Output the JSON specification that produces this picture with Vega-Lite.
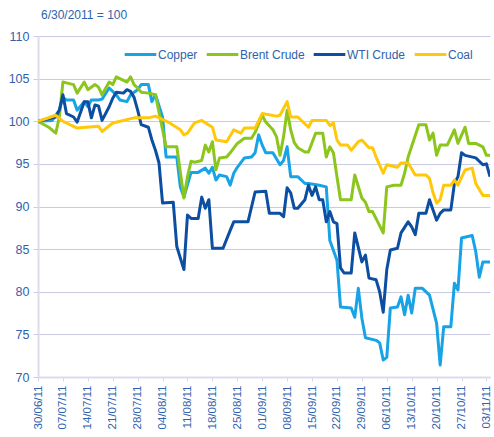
{
 "$schema": "https://vega.github.io/schema/vega-lite/v6.json",
 "width": 452,
 "height": 341,
 "autosize": {"type": "none"},
 "padding": {"left": 38, "top": 36, "right": 4, "bottom": 60},
 "background": "white",
 "title": {"text": "6/30/2011 = 100", "anchor": "start", "frame": "group", "offset": 8, "fontSize": 12, "font": "Liberation Sans", "fontWeight": "normal", "color": "#2F62AE", "dx": 3},
 "data": {"values": [
  {"series":"Copper","date":"2011-06-30","value":100},
  {"series":"Copper","date":"2011-07-04","value":100.1},
  {"series":"Copper","date":"2011-07-06","value":101.3},
  {"series":"Copper","date":"2011-07-07","value":102.8},
  {"series":"Copper","date":"2011-07-08","value":102.5},
  {"series":"Copper","date":"2011-07-10","value":102.5},
  {"series":"Copper","date":"2011-07-11","value":101.3},
  {"series":"Copper","date":"2011-07-13","value":102.3},
  {"series":"Copper","date":"2011-07-14","value":101.7},
  {"series":"Copper","date":"2011-07-15","value":102.5},
  {"series":"Copper","date":"2011-07-17","value":102.5},
  {"series":"Copper","date":"2011-07-18","value":102.6},
  {"series":"Copper","date":"2011-07-20","value":103.9},
  {"series":"Copper","date":"2011-07-22","value":103.1},
  {"series":"Copper","date":"2011-07-23","value":102.5},
  {"series":"Copper","date":"2011-07-25","value":102.3},
  {"series":"Copper","date":"2011-07-26","value":103.1},
  {"series":"Copper","date":"2011-07-28","value":103.7},
  {"series":"Copper","date":"2011-07-29","value":104.3},
  {"series":"Copper","date":"2011-07-31","value":104.3},
  {"series":"Copper","date":"2011-08-01","value":102.3},
  {"series":"Copper","date":"2011-08-02","value":103.1},
  {"series":"Copper","date":"2011-08-04","value":100.5},
  {"series":"Copper","date":"2011-08-05","value":95.8},
  {"series":"Copper","date":"2011-08-08","value":95.8},
  {"series":"Copper","date":"2011-08-09","value":92.3},
  {"series":"Copper","date":"2011-08-10","value":91.1},
  {"series":"Copper","date":"2011-08-12","value":94.0},
  {"series":"Copper","date":"2011-08-14","value":94.0},
  {"series":"Copper","date":"2011-08-16","value":94.5},
  {"series":"Copper","date":"2011-08-17","value":93.9},
  {"series":"Copper","date":"2011-08-18","value":94.6},
  {"series":"Copper","date":"2011-08-19","value":93.1},
  {"series":"Copper","date":"2011-08-20","value":93.7},
  {"series":"Copper","date":"2011-08-22","value":93.5},
  {"series":"Copper","date":"2011-08-23","value":92.5},
  {"series":"Copper","date":"2011-08-24","value":93.9},
  {"series":"Copper","date":"2011-08-25","value":94.6},
  {"series":"Copper","date":"2011-08-27","value":95.7},
  {"series":"Copper","date":"2011-08-29","value":95.8},
  {"series":"Copper","date":"2011-08-30","value":96.3},
  {"series":"Copper","date":"2011-08-31","value":98.4},
  {"series":"Copper","date":"2011-09-01","value":97.2},
  {"series":"Copper","date":"2011-09-02","value":96.3},
  {"series":"Copper","date":"2011-09-04","value":96.3},
  {"series":"Copper","date":"2011-09-06","value":94.9},
  {"series":"Copper","date":"2011-09-07","value":95.4},
  {"series":"Copper","date":"2011-09-08","value":97.0},
  {"series":"Copper","date":"2011-09-09","value":93.5},
  {"series":"Copper","date":"2011-09-11","value":93.5},
  {"series":"Copper","date":"2011-09-13","value":92.7},
  {"series":"Copper","date":"2011-09-14","value":92.7},
  {"series":"Copper","date":"2011-09-17","value":92.5},
  {"series":"Copper","date":"2011-09-19","value":92.3},
  {"series":"Copper","date":"2011-09-20","value":86.0},
  {"series":"Copper","date":"2011-09-22","value":83.7},
  {"series":"Copper","date":"2011-09-23","value":78.2},
  {"series":"Copper","date":"2011-09-26","value":78.1},
  {"series":"Copper","date":"2011-09-27","value":77.0},
  {"series":"Copper","date":"2011-09-28","value":80.4},
  {"series":"Copper","date":"2011-09-29","value":76.9},
  {"series":"Copper","date":"2011-09-30","value":74.6},
  {"series":"Copper","date":"2011-10-03","value":74.3},
  {"series":"Copper","date":"2011-10-04","value":74.0},
  {"series":"Copper","date":"2011-10-05","value":72.0},
  {"series":"Copper","date":"2011-10-06","value":72.3},
  {"series":"Copper","date":"2011-10-07","value":78.1},
  {"series":"Copper","date":"2011-10-09","value":78.2},
  {"series":"Copper","date":"2011-10-10","value":79.4},
  {"series":"Copper","date":"2011-10-11","value":77.3},
  {"series":"Copper","date":"2011-10-12","value":79.6},
  {"series":"Copper","date":"2011-10-13","value":77.5},
  {"series":"Copper","date":"2011-10-14","value":80.4},
  {"series":"Copper","date":"2011-10-16","value":80.4},
  {"series":"Copper","date":"2011-10-18","value":79.6},
  {"series":"Copper","date":"2011-10-20","value":76.3},
  {"series":"Copper","date":"2011-10-21","value":71.4},
  {"series":"Copper","date":"2011-10-22","value":75.9},
  {"series":"Copper","date":"2011-10-24","value":75.9},
  {"series":"Copper","date":"2011-10-25","value":81.0},
  {"series":"Copper","date":"2011-10-26","value":80.2},
  {"series":"Copper","date":"2011-10-27","value":86.3},
  {"series":"Copper","date":"2011-10-30","value":86.6},
  {"series":"Copper","date":"2011-10-31","value":84.7},
  {"series":"Copper","date":"2011-11-01","value":81.7},
  {"series":"Copper","date":"2011-11-02","value":83.5},
  {"series":"Copper","date":"2011-11-04","value":83.5},

  {"series":"Brent Crude","date":"2011-06-30","value":100},
  {"series":"Brent Crude","date":"2011-07-03","value":99.3},
  {"series":"Brent Crude","date":"2011-07-05","value":98.6},
  {"series":"Brent Crude","date":"2011-07-06","value":100.5},
  {"series":"Brent Crude","date":"2011-07-07","value":104.6},
  {"series":"Brent Crude","date":"2011-07-08","value":104.5},
  {"series":"Brent Crude","date":"2011-07-10","value":104.3},
  {"series":"Brent Crude","date":"2011-07-11","value":103.3},
  {"series":"Brent Crude","date":"2011-07-13","value":104.6},
  {"series":"Brent Crude","date":"2011-07-14","value":103.7},
  {"series":"Brent Crude","date":"2011-07-16","value":104.3},
  {"series":"Brent Crude","date":"2011-07-17","value":104.0},
  {"series":"Brent Crude","date":"2011-07-18","value":103.1},
  {"series":"Brent Crude","date":"2011-07-20","value":104.6},
  {"series":"Brent Crude","date":"2011-07-21","value":104.3},
  {"series":"Brent Crude","date":"2011-07-22","value":105.2},
  {"series":"Brent Crude","date":"2011-07-23","value":105.0},
  {"series":"Brent Crude","date":"2011-07-25","value":104.6},
  {"series":"Brent Crude","date":"2011-07-26","value":105.2},
  {"series":"Brent Crude","date":"2011-07-27","value":104.3},
  {"series":"Brent Crude","date":"2011-07-28","value":103.9},
  {"series":"Brent Crude","date":"2011-07-29","value":103.4},
  {"series":"Brent Crude","date":"2011-07-31","value":103.3},
  {"series":"Brent Crude","date":"2011-08-02","value":103.1},
  {"series":"Brent Crude","date":"2011-08-04","value":99.0},
  {"series":"Brent Crude","date":"2011-08-05","value":97.0},
  {"series":"Brent Crude","date":"2011-08-08","value":97.0},
  {"series":"Brent Crude","date":"2011-08-10","value":91.0},
  {"series":"Brent Crude","date":"2011-08-11","value":93.5},
  {"series":"Brent Crude","date":"2011-08-12","value":95.3},
  {"series":"Brent Crude","date":"2011-08-13","value":95.2},
  {"series":"Brent Crude","date":"2011-08-15","value":95.4},
  {"series":"Brent Crude","date":"2011-08-16","value":97.2},
  {"series":"Brent Crude","date":"2011-08-17","value":96.4},
  {"series":"Brent Crude","date":"2011-08-18","value":97.6},
  {"series":"Brent Crude","date":"2011-08-19","value":94.3},
  {"series":"Brent Crude","date":"2011-08-20","value":95.7},
  {"series":"Brent Crude","date":"2011-08-22","value":95.8},
  {"series":"Brent Crude","date":"2011-08-23","value":96.3},
  {"series":"Brent Crude","date":"2011-08-25","value":97.4},
  {"series":"Brent Crude","date":"2011-08-27","value":98.0},
  {"series":"Brent Crude","date":"2011-08-29","value":98.0},
  {"series":"Brent Crude","date":"2011-08-30","value":98.7},
  {"series":"Brent Crude","date":"2011-09-01","value":100.7},
  {"series":"Brent Crude","date":"2011-09-02","value":99.9},
  {"series":"Brent Crude","date":"2011-09-04","value":99.0},
  {"series":"Brent Crude","date":"2011-09-05","value":98.2},
  {"series":"Brent Crude","date":"2011-09-06","value":96.0},
  {"series":"Brent Crude","date":"2011-09-07","value":98.2},
  {"series":"Brent Crude","date":"2011-09-08","value":101.3},
  {"series":"Brent Crude","date":"2011-09-09","value":99.0},
  {"series":"Brent Crude","date":"2011-09-10","value":97.5},
  {"series":"Brent Crude","date":"2011-09-11","value":96.9},
  {"series":"Brent Crude","date":"2011-09-13","value":96.4},
  {"series":"Brent Crude","date":"2011-09-14","value":96.4},
  {"series":"Brent Crude","date":"2011-09-16","value":98.6},
  {"series":"Brent Crude","date":"2011-09-18","value":98.6},
  {"series":"Brent Crude","date":"2011-09-19","value":95.8},
  {"series":"Brent Crude","date":"2011-09-20","value":97.0},
  {"series":"Brent Crude","date":"2011-09-21","value":96.3},
  {"series":"Brent Crude","date":"2011-09-22","value":93.5},
  {"series":"Brent Crude","date":"2011-09-23","value":90.8},
  {"series":"Brent Crude","date":"2011-09-26","value":90.8},
  {"series":"Brent Crude","date":"2011-09-27","value":93.7},
  {"series":"Brent Crude","date":"2011-09-29","value":91.0},
  {"series":"Brent Crude","date":"2011-09-30","value":90.5},
  {"series":"Brent Crude","date":"2011-10-01","value":89.4},
  {"series":"Brent Crude","date":"2011-10-02","value":89.4},
  {"series":"Brent Crude","date":"2011-10-05","value":86.9},
  {"series":"Brent Crude","date":"2011-10-06","value":92.3},
  {"series":"Brent Crude","date":"2011-10-08","value":92.5},
  {"series":"Brent Crude","date":"2011-10-10","value":92.5},
  {"series":"Brent Crude","date":"2011-10-11","value":93.9},
  {"series":"Brent Crude","date":"2011-10-12","value":95.8},
  {"series":"Brent Crude","date":"2011-10-15","value":99.6},
  {"series":"Brent Crude","date":"2011-10-17","value":99.6},
  {"series":"Brent Crude","date":"2011-10-18","value":97.8},
  {"series":"Brent Crude","date":"2011-10-19","value":98.6},
  {"series":"Brent Crude","date":"2011-10-20","value":96.0},
  {"series":"Brent Crude","date":"2011-10-21","value":97.2},
  {"series":"Brent Crude","date":"2011-10-23","value":97.2},
  {"series":"Brent Crude","date":"2011-10-25","value":99.0},
  {"series":"Brent Crude","date":"2011-10-26","value":97.4},
  {"series":"Brent Crude","date":"2011-10-28","value":99.3},
  {"series":"Brent Crude","date":"2011-10-29","value":97.4},
  {"series":"Brent Crude","date":"2011-10-31","value":97.4},
  {"series":"Brent Crude","date":"2011-11-02","value":97.0},
  {"series":"Brent Crude","date":"2011-11-03","value":96.0},
  {"series":"Brent Crude","date":"2011-11-04","value":96.0},

  {"series":"WTI Crude","date":"2011-06-30","value":100},
  {"series":"WTI Crude","date":"2011-07-05","value":100.5},
  {"series":"WTI Crude","date":"2011-07-06","value":101.3},
  {"series":"WTI Crude","date":"2011-07-07","value":103.1},
  {"series":"WTI Crude","date":"2011-07-08","value":100.9},
  {"series":"WTI Crude","date":"2011-07-10","value":100.5},
  {"series":"WTI Crude","date":"2011-07-11","value":99.9},
  {"series":"WTI Crude","date":"2011-07-13","value":102.3},
  {"series":"WTI Crude","date":"2011-07-14","value":102.3},
  {"series":"WTI Crude","date":"2011-07-15","value":100.4},
  {"series":"WTI Crude","date":"2011-07-16","value":101.9},
  {"series":"WTI Crude","date":"2011-07-17","value":101.8},
  {"series":"WTI Crude","date":"2011-07-18","value":100.1},
  {"series":"WTI Crude","date":"2011-07-20","value":101.7},
  {"series":"WTI Crude","date":"2011-07-21","value":102.7},
  {"series":"WTI Crude","date":"2011-07-22","value":103.4},
  {"series":"WTI Crude","date":"2011-07-24","value":103.3},
  {"series":"WTI Crude","date":"2011-07-25","value":103.7},
  {"series":"WTI Crude","date":"2011-07-26","value":103.5},
  {"series":"WTI Crude","date":"2011-07-27","value":102.8},
  {"series":"WTI Crude","date":"2011-07-28","value":101.3},
  {"series":"WTI Crude","date":"2011-07-29","value":99.6},
  {"series":"WTI Crude","date":"2011-07-31","value":99.3},
  {"series":"WTI Crude","date":"2011-08-01","value":97.8},
  {"series":"WTI Crude","date":"2011-08-02","value":96.6},
  {"series":"WTI Crude","date":"2011-08-03","value":95.1},
  {"series":"WTI Crude","date":"2011-08-04","value":90.4},
  {"series":"WTI Crude","date":"2011-08-07","value":90.5},
  {"series":"WTI Crude","date":"2011-08-08","value":85.3},
  {"series":"WTI Crude","date":"2011-08-10","value":82.6},
  {"series":"WTI Crude","date":"2011-08-11","value":89.0},
  {"series":"WTI Crude","date":"2011-08-12","value":88.6},
  {"series":"WTI Crude","date":"2011-08-14","value":88.6},
  {"series":"WTI Crude","date":"2011-08-15","value":91.1},
  {"series":"WTI Crude","date":"2011-08-16","value":89.8},
  {"series":"WTI Crude","date":"2011-08-17","value":90.8},
  {"series":"WTI Crude","date":"2011-08-18","value":85.1},
  {"series":"WTI Crude","date":"2011-08-21","value":85.1},
  {"series":"WTI Crude","date":"2011-08-23","value":87.2},
  {"series":"WTI Crude","date":"2011-08-24","value":88.2},
  {"series":"WTI Crude","date":"2011-08-25","value":88.2},
  {"series":"WTI Crude","date":"2011-08-28","value":88.2},
  {"series":"WTI Crude","date":"2011-08-30","value":91.7},
  {"series":"WTI Crude","date":"2011-09-02","value":91.8},
  {"series":"WTI Crude","date":"2011-09-03","value":89.2},
  {"series":"WTI Crude","date":"2011-09-06","value":89.2},
  {"series":"WTI Crude","date":"2011-09-07","value":88.8},
  {"series":"WTI Crude","date":"2011-09-08","value":92.2},
  {"series":"WTI Crude","date":"2011-09-09","value":91.6},
  {"series":"WTI Crude","date":"2011-09-10","value":89.8},
  {"series":"WTI Crude","date":"2011-09-11","value":89.8},
  {"series":"WTI Crude","date":"2011-09-13","value":90.8},
  {"series":"WTI Crude","date":"2011-09-14","value":92.5},
  {"series":"WTI Crude","date":"2011-09-15","value":91.3},
  {"series":"WTI Crude","date":"2011-09-16","value":92.3},
  {"series":"WTI Crude","date":"2011-09-17","value":90.8},
  {"series":"WTI Crude","date":"2011-09-18","value":90.8},
  {"series":"WTI Crude","date":"2011-09-19","value":88.2},
  {"series":"WTI Crude","date":"2011-09-20","value":89.4},
  {"series":"WTI Crude","date":"2011-09-21","value":88.2},
  {"series":"WTI Crude","date":"2011-09-22","value":88.0},
  {"series":"WTI Crude","date":"2011-09-23","value":82.8},
  {"series":"WTI Crude","date":"2011-09-24","value":82.2},
  {"series":"WTI Crude","date":"2011-09-26","value":82.2},
  {"series":"WTI Crude","date":"2011-09-27","value":86.9},
  {"series":"WTI Crude","date":"2011-09-29","value":83.5},
  {"series":"WTI Crude","date":"2011-09-30","value":84.3},
  {"series":"WTI Crude","date":"2011-10-01","value":81.6},
  {"series":"WTI Crude","date":"2011-10-03","value":81.4},
  {"series":"WTI Crude","date":"2011-10-04","value":80.0},
  {"series":"WTI Crude","date":"2011-10-05","value":77.6},
  {"series":"WTI Crude","date":"2011-10-06","value":82.6},
  {"series":"WTI Crude","date":"2011-10-07","value":84.9},
  {"series":"WTI Crude","date":"2011-10-09","value":85.1},
  {"series":"WTI Crude","date":"2011-10-10","value":86.9},
  {"series":"WTI Crude","date":"2011-10-12","value":88.2},
  {"series":"WTI Crude","date":"2011-10-13","value":87.6},
  {"series":"WTI Crude","date":"2011-10-14","value":86.7},
  {"series":"WTI Crude","date":"2011-10-15","value":89.2},
  {"series":"WTI Crude","date":"2011-10-17","value":89.2},
  {"series":"WTI Crude","date":"2011-10-18","value":90.8},
  {"series":"WTI Crude","date":"2011-10-19","value":89.6},
  {"series":"WTI Crude","date":"2011-10-20","value":88.4},
  {"series":"WTI Crude","date":"2011-10-21","value":89.2},
  {"series":"WTI Crude","date":"2011-10-22","value":89.6},
  {"series":"WTI Crude","date":"2011-10-24","value":89.6},
  {"series":"WTI Crude","date":"2011-10-25","value":92.7},
  {"series":"WTI Crude","date":"2011-10-26","value":93.5},
  {"series":"WTI Crude","date":"2011-10-27","value":96.3},
  {"series":"WTI Crude","date":"2011-10-28","value":96.0},
  {"series":"WTI Crude","date":"2011-10-31","value":95.7},
  {"series":"WTI Crude","date":"2011-11-02","value":94.9},
  {"series":"WTI Crude","date":"2011-11-03","value":95.0},
  {"series":"WTI Crude","date":"2011-11-04","value":93.5},

  {"series":"Coal","date":"2011-06-30","value":100},
  {"series":"Coal","date":"2011-07-05","value":100.7},
  {"series":"Coal","date":"2011-07-07","value":100.0},
  {"series":"Coal","date":"2011-07-11","value":99.2},
  {"series":"Coal","date":"2011-07-17","value":99.4},
  {"series":"Coal","date":"2011-07-18","value":98.8},
  {"series":"Coal","date":"2011-07-21","value":99.8},
  {"series":"Coal","date":"2011-07-27","value":100.4},
  {"series":"Coal","date":"2011-07-31","value":100.4},
  {"series":"Coal","date":"2011-08-02","value":100.6},
  {"series":"Coal","date":"2011-08-06","value":99.8},
  {"series":"Coal","date":"2011-08-09","value":99.0},
  {"series":"Coal","date":"2011-08-10","value":98.4},
  {"series":"Coal","date":"2011-08-11","value":98.6},
  {"series":"Coal","date":"2011-08-13","value":99.8},
  {"series":"Coal","date":"2011-08-15","value":100.1},
  {"series":"Coal","date":"2011-08-18","value":99.3},
  {"series":"Coal","date":"2011-08-19","value":97.8},
  {"series":"Coal","date":"2011-08-22","value":97.6},
  {"series":"Coal","date":"2011-08-24","value":99.0},
  {"series":"Coal","date":"2011-08-26","value":98.6},
  {"series":"Coal","date":"2011-08-27","value":99.2},
  {"series":"Coal","date":"2011-08-30","value":99.2},
  {"series":"Coal","date":"2011-09-01","value":100.9},
  {"series":"Coal","date":"2011-09-05","value":100.6},
  {"series":"Coal","date":"2011-09-06","value":100.7},
  {"series":"Coal","date":"2011-09-08","value":102.3},
  {"series":"Coal","date":"2011-09-09","value":100.5},
  {"series":"Coal","date":"2011-09-11","value":100.5},
  {"series":"Coal","date":"2011-09-14","value":99.3},
  {"series":"Coal","date":"2011-09-15","value":100.1},
  {"series":"Coal","date":"2011-09-19","value":100.1},
  {"series":"Coal","date":"2011-09-20","value":99.5},
  {"series":"Coal","date":"2011-09-21","value":99.8},
  {"series":"Coal","date":"2011-09-22","value":97.8},
  {"series":"Coal","date":"2011-09-23","value":97.2},
  {"series":"Coal","date":"2011-09-25","value":97.2},
  {"series":"Coal","date":"2011-09-26","value":96.6},
  {"series":"Coal","date":"2011-09-28","value":97.6},
  {"series":"Coal","date":"2011-09-29","value":97.8},
  {"series":"Coal","date":"2011-10-01","value":96.9},
  {"series":"Coal","date":"2011-10-02","value":96.9},
  {"series":"Coal","date":"2011-10-03","value":95.8},
  {"series":"Coal","date":"2011-10-05","value":93.9},
  {"series":"Coal","date":"2011-10-06","value":94.9},
  {"series":"Coal","date":"2011-10-09","value":94.6},
  {"series":"Coal","date":"2011-10-10","value":95.1},
  {"series":"Coal","date":"2011-10-12","value":95.1},
  {"series":"Coal","date":"2011-10-14","value":93.7},
  {"series":"Coal","date":"2011-10-17","value":93.7},
  {"series":"Coal","date":"2011-10-18","value":93.3},
  {"series":"Coal","date":"2011-10-19","value":91.6},
  {"series":"Coal","date":"2011-10-20","value":90.4},
  {"series":"Coal","date":"2011-10-21","value":90.8},
  {"series":"Coal","date":"2011-10-22","value":92.5},
  {"series":"Coal","date":"2011-10-24","value":92.5},
  {"series":"Coal","date":"2011-10-25","value":93.1},
  {"series":"Coal","date":"2011-10-26","value":92.5},
  {"series":"Coal","date":"2011-10-28","value":94.3},
  {"series":"Coal","date":"2011-10-30","value":94.5},
  {"series":"Coal","date":"2011-10-31","value":92.7},
  {"series":"Coal","date":"2011-11-02","value":91.3},
  {"series":"Coal","date":"2011-11-04","value":91.3}
 ]},
 "mark": {"type": "line", "strokeWidth": 3, "strokeJoin": "round", "clip": true},
 "encoding": {
  "x": {
   "field": "date", "type": "temporal",
   "scale": {"type": "utc", "domain": [{"year":2011,"month":6,"date":30,"utc":true},{"year":2011,"month":11,"date":4,"utc":true}]},
   "axis": {
    "title": null,
    "values": [
     {"year":2011,"month":6,"date":30,"utc":true},
     {"year":2011,"month":7,"date":7,"utc":true},
     {"year":2011,"month":7,"date":14,"utc":true},
     {"year":2011,"month":7,"date":21,"utc":true},
     {"year":2011,"month":7,"date":28,"utc":true},
     {"year":2011,"month":8,"date":4,"utc":true},
     {"year":2011,"month":8,"date":11,"utc":true},
     {"year":2011,"month":8,"date":18,"utc":true},
     {"year":2011,"month":8,"date":25,"utc":true},
     {"year":2011,"month":9,"date":1,"utc":true},
     {"year":2011,"month":9,"date":8,"utc":true},
     {"year":2011,"month":9,"date":15,"utc":true},
     {"year":2011,"month":9,"date":22,"utc":true},
     {"year":2011,"month":9,"date":29,"utc":true},
     {"year":2011,"month":10,"date":6,"utc":true},
     {"year":2011,"month":10,"date":13,"utc":true},
     {"year":2011,"month":10,"date":20,"utc":true},
     {"year":2011,"month":10,"date":27,"utc":true},
     {"year":2011,"month":11,"date":3,"utc":true}
    ],
    "format": "%d/%m/%y",
    "labelAngle": 270,
    "labelAlign": "right",
    "labelBaseline": "middle",
    "labelFontSize": 11.5,
    "labelFont": "Liberation Sans",
    "labelColor": "#2F62AE",
    "labelPadding": 4,
    "labelOverlap": false,
    "labelFlush": false,
    "tickSize": 4,
    "tickColor": "#D6D6E6",
    "tickWidth": 1,
    "domainColor": "#DCDCEC",
    "domainWidth": 2,
    "grid": false
   }
  },
  "y": {
   "field": "value", "type": "quantitative",
   "scale": {"domain": [70, 110], "nice": false, "zero": false},
   "axis": {
    "title": null,
    "values": [70, 75, 80, 85, 90, 95, 100, 105, 110],
    "labelFontSize": 12.5,
    "labelFont": "Liberation Sans",
    "labelColor": "#2F62AE",
    "labelPadding": 4,
    "tickSize": 5,
    "tickColor": "#C9CBE0",
    "domainColor": "#DCDCEC",
    "domainWidth": 2,
    "grid": true,
    "gridColor": "#C9CBE0",
    "gridWidth": 1
   }
  },
  "color": {
   "field": "series", "type": "nominal",
   "scale": {"domain": ["Copper", "Brent Crude", "WTI Crude", "Coal"], "range": ["#18A3E6", "#8CC61C", "#0C4EA2", "#FFC80A"]},
   "legend": {
    "title": null,
    "orient": "none",
    "legendX": 85,
    "legendY": 1,
    "direction": "horizontal",
    "gridAlign": "none",
    "padding": 0,
    "symbolType": "stroke",
    "symbolSize": 1000,
    "symbolStrokeWidth": 3,
    "labelFontSize": 12,
    "labelFont": "Liberation Sans",
    "labelColor": "#2F62AE",
    "labelOffset": 0,
    "columnPadding": 2
   }
  }
 },
 "config": {"view": {"stroke": null}, "font": "Liberation Sans"}
}
